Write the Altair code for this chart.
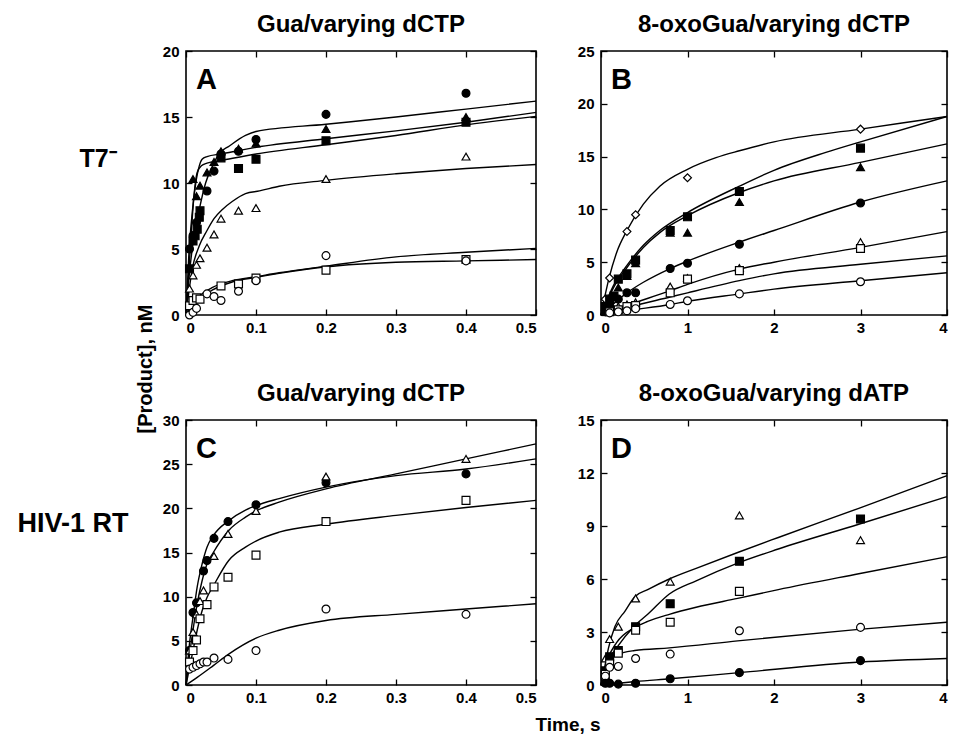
import altair as alt
import pandas as pd

FONT = "Liberation Sans"

# ---------------- Panel A : T7-, Gua / varying dCTP ----------------
A_fcirc_t = [0.005, 0.01, 0.015, 0.03, 0.04, 0.05, 0.075, 0.1, 0.2, 0.4]
A_fcirc_v = [5.0, 6.0, 7.0, 9.4, 10.9, 12.2, 12.4, 13.3, 15.2, 16.8]
A_ftri_t = [0.01, 0.015, 0.02, 0.03, 0.04, 0.05, 0.075, 0.1, 0.2, 0.4]
A_ftri_v = [10.3, 9.0, 9.8, 10.8, 11.6, 12.4, 12.6, 13.0, 14.1, 15.0]
A_fsq_t = [0.005, 0.01, 0.013, 0.016, 0.019, 0.02, 0.05, 0.075, 0.1, 0.2, 0.4]
A_fsq_v = [3.5, 5.6, 6.0, 6.5, 7.4, 7.9, 11.9, 11.1, 11.8, 13.2, 14.6]
A_otri_t = [0.005, 0.01, 0.015, 0.02, 0.03, 0.04, 0.05, 0.075, 0.1, 0.2, 0.4]
A_otri_v = [2.0, 3.0, 3.8, 4.3, 5.1, 6.1, 7.3, 7.9, 8.1, 10.3, 12.0]
A_osq_t = [0.005, 0.01, 0.015, 0.02, 0.05, 0.075, 0.1, 0.2, 0.4]
A_osq_v = [0.7, 1.1, 1.3, 1.2, 2.2, 2.35, 2.8, 3.4, 4.2]
A_ocirc_t = [0.005, 0.01, 0.015, 0.03, 0.04, 0.05, 0.075, 0.1, 0.2, 0.4]
A_ocirc_v = [0.0, 0.2, 0.5, 1.6, 1.4, 1.1, 1.8, 2.6, 4.5, 4.1]

A_fit1_t = [0, 0.004, 0.011, 0.019, 0.028, 0.038, 0.047, 0.062, 0.085, 0.1, 0.2, 0.3, 0.4, 0.5]
A_fit1_v = [0, 2.7, 5.8, 8.0, 10.0, 11.3, 12.2, 12.8, 13.6, 13.9, 14.45, 15.0, 15.6, 16.2]
A_fit2_t = [0, 0.004, 0.009, 0.014, 0.019, 0.023, 0.03, 0.05, 0.1, 0.2, 0.3, 0.4, 0.5]
A_fit2_v = [0, 4.5, 7.8, 10.0, 11.3, 11.8, 12.0, 12.2, 12.7, 13.35, 13.95, 14.6, 15.35]
A_fit3_t = [0, 0.007, 0.011, 0.016, 0.022, 0.03, 0.05, 0.1, 0.2, 0.3, 0.4, 0.5]
A_fit3_v = [0, 5.8, 8.8, 10.8, 11.3, 11.5, 11.7, 12.2, 12.9, 13.6, 14.4, 15.05]
A_fit4_t = [0, 0.009, 0.019, 0.03, 0.04, 0.052, 0.066, 0.085, 0.105, 0.133, 0.2, 0.3, 0.4, 0.5]
A_fit4_v = [0, 3.5, 5.25, 6.4, 7.3, 8.0, 8.6, 9.2, 9.4, 9.75, 10.2, 10.7, 11.1, 11.4]
A_fit5_t = [0, 0.009, 0.019, 0.038, 0.066, 0.1, 0.133, 0.2, 0.3, 0.4, 0.5]
A_fit5_v = [0, 0.96, 1.46, 2.1, 2.6, 2.9, 3.2, 3.7, 4.4, 4.75, 5.05]
A_fit6_t = [0, 0.009, 0.019, 0.038, 0.066, 0.1, 0.133, 0.2, 0.3, 0.4, 0.5]
A_fit6_v = [0, 0.7, 1.2, 1.9, 2.5, 2.85, 3.15, 3.65, 4.0, 4.1, 4.2]

# ---------------- Panel B : T7-, 8-oxoGua / varying dCTP ----------------
B_dia_t = [0.05, 0.1, 0.3, 0.4, 1.0, 3.0]
B_dia_v = [1.5, 3.5, 7.9, 9.5, 13.0, 17.6]
B_fsq_t = [0.05, 0.1, 0.15, 0.2, 0.3, 0.4, 0.8, 1.0, 1.6, 3.0]
B_fsq_v = [0.8, 1.5, 1.8, 3.4, 3.9, 5.2, 8.0, 9.3, 11.7, 15.8]
B_ftri_t = [0.05, 0.1, 0.2, 0.3, 0.4, 0.8, 1.0, 1.6, 3.0]
B_ftri_v = [0.5, 1.2, 2.6, 3.7, 4.9, 7.8, 7.8, 10.7, 14.0]
B_fcirc_t = [0.05, 0.1, 0.2, 0.3, 0.4, 0.8, 1.0, 1.6, 3.0]
B_fcirc_v = [0.3, 0.8, 1.5, 2.1, 2.1, 4.4, 4.9, 6.7, 10.6]
B_otri_t = [0.1, 0.2, 0.3, 0.4, 0.8, 1.0, 1.6, 3.0]
B_otri_v = [0.4, 0.8, 1.0, 1.2, 2.7, 3.5, 4.45, 6.9]
B_osq_t = [0.1, 0.2, 0.3, 0.4, 0.8, 1.0, 1.6, 3.0]
B_osq_v = [0.3, 0.5, 0.8, 0.9, 2.1, 3.4, 4.2, 6.3]
B_ocirc_t = [0.1, 0.2, 0.3, 0.4, 0.8, 1.0, 1.6, 3.0]
B_ocirc_v = [0.2, 0.3, 0.4, 0.6, 1.0, 1.35, 2.0, 3.15]

B_fit1_t = [0, 0.09, 0.18, 0.3, 0.49, 0.68, 1.0, 1.33, 1.6, 2.0, 3.0, 4.0]
B_fit1_v = [0, 3.4, 5.9, 8.0, 10.5, 12.2, 13.8, 14.9, 15.55, 16.4, 17.6, 18.8]
B_fit2_t = [0, 0.145, 0.3, 0.49, 0.68, 1.0, 1.6, 2.0, 2.6, 3.0, 4.0]
B_fit2_v = [0, 2.8, 4.7, 6.6, 8.0, 9.7, 12.2, 13.7, 15.4, 16.4, 18.8]
B_fit3_t = [0, 0.145, 0.3, 0.49, 0.68, 1.0, 1.6, 2.0, 3.0, 4.0]
B_fit3_v = [0, 2.6, 4.5, 6.4, 7.8, 9.4, 11.6, 12.7, 14.45, 16.2]
B_fit4_t = [0, 0.3, 0.49, 0.8, 1.0, 1.6, 2.0, 3.0, 4.0]
B_fit4_v = [0, 2.1, 3.1, 4.4, 5.1, 6.9, 8.0, 10.7, 12.7]
B_fit5_t = [0, 0.3, 0.8, 1.0, 1.6, 2.0, 3.0, 4.0]
B_fit5_v = [0, 0.9, 2.3, 2.9, 4.35, 5.0, 6.4, 7.9]
B_fit6_t = [0, 0.3, 0.8, 1.0, 1.6, 2.0, 3.0, 4.0]
B_fit6_v = [0, 0.7, 1.7, 2.1, 3.25, 3.9, 4.8, 5.6]
B_fit7_t = [0, 0.3, 0.8, 1.0, 1.6, 2.0, 3.0, 4.0]
B_fit7_v = [0, 0.4, 1.0, 1.3, 2.0, 2.45, 3.25, 4.0]

# ---------------- Panel C : HIV-1 RT, Gua / varying dCTP ----------------
C_fcirc_t = [0.005, 0.01, 0.015, 0.025, 0.03, 0.04, 0.06, 0.1, 0.2, 0.4]
C_fcirc_v = [3.9, 8.2, 9.3, 12.9, 14.1, 16.6, 18.5, 20.4, 22.9, 23.9]
C_otri_t = [0.005, 0.01, 0.015, 0.02, 0.025, 0.04, 0.06, 0.1, 0.2, 0.4]
C_otri_v = [3.9, 6.0, 8.0, 9.5, 10.7, 14.6, 17.1, 19.7, 23.6, 25.6]
C_osq_t = [0.005, 0.01, 0.015, 0.02, 0.03, 0.04, 0.06, 0.1, 0.2, 0.4]
C_osq_v = [2.6, 3.9, 5.1, 7.5, 9.1, 11.1, 12.2, 14.7, 18.5, 20.9]
C_ocirc_t = [0.005, 0.01, 0.015, 0.02, 0.025, 0.03, 0.04, 0.06, 0.1, 0.2, 0.4]
C_ocirc_v = [1.8, 2.0, 2.2, 2.4, 2.6, 2.6, 3.05, 2.9, 3.9, 8.6, 8.0]

C_fit1_t = [0, 0.004, 0.01, 0.016, 0.023, 0.03, 0.039, 0.061, 0.085, 0.1, 0.133, 0.2, 0.3, 0.4, 0.5]
C_fit1_v = [0, 3.9, 7.7, 11.1, 13.7, 15.6, 16.9, 18.6, 19.8, 20.3, 21.1, 22.4, 23.7, 24.45, 25.6]
C_fit2_t = [0, 0.004, 0.01, 0.016, 0.023, 0.03, 0.039, 0.061, 0.085, 0.1, 0.133, 0.2, 0.3, 0.4, 0.5]
C_fit2_v = [0, 2.75, 6.2, 9.2, 11.8, 13.7, 15.0, 17.5, 19.0, 19.7, 20.7, 22.2, 23.9, 25.6, 27.3]
C_fit3_t = [0, 0.01, 0.016, 0.023, 0.03, 0.039, 0.061, 0.085, 0.1, 0.133, 0.2, 0.3, 0.4, 0.5]
C_fit3_v = [0, 3.9, 6.2, 8.4, 9.9, 11.2, 14.1, 15.6, 16.3, 17.3, 18.2, 19.2, 20.1, 20.9]
C_fit4_t = [0, 0.016, 0.039, 0.061, 0.1, 0.133, 0.2, 0.3, 0.4, 0.5]
C_fit4_v = [0, 0.87, 2.2, 3.5, 5.3, 6.2, 7.3, 8.0, 8.6, 9.2]

# ---------------- Panel D : HIV-1 RT, 8-oxoGua / varying dATP ----------------
D_otri_t = [0.05, 0.1, 0.2, 0.4, 0.8, 1.6, 3.0]
D_otri_v = [1.5, 2.6, 3.3, 4.9, 5.85, 9.6, 8.2]
D_fsq_t = [0.05, 0.1, 0.2, 0.4, 0.8, 1.6, 3.0]
D_fsq_v = [0.8, 1.6, 1.95, 3.3, 4.6, 7.0, 9.4]
D_osq_t = [0.05, 0.1, 0.2, 0.4, 0.8, 1.6]
D_osq_v = [0.6, 1.2, 1.8, 3.1, 3.55, 5.3]
D_ocirc_t = [0.05, 0.1, 0.2, 0.4, 0.8, 1.6, 3.0]
D_ocirc_v = [0.5, 1.0, 1.05, 1.5, 1.75, 3.07, 3.26]
D_fcirc_t = [0.05, 0.1, 0.2, 0.4, 0.8, 1.6, 3.0]
D_fcirc_v = [0.1, 0.1, 0.05, 0.1, 0.35, 0.7, 1.38]

D_fit1_t = [0, 0.05, 0.087, 0.16, 0.28, 0.39, 0.54, 0.79, 1.1, 1.58, 2.05, 2.98, 4.0]
D_fit1_v = [0, 1.2, 2.1, 3.3, 4.2, 5.0, 5.4, 6.0, 6.6, 7.5, 8.35, 10.0, 11.85]
D_fit2_t = [0, 0.087, 0.18, 0.39, 0.54, 0.79, 1.1, 1.58, 2.05, 2.98, 4.0]
D_fit2_v = [0, 1.4, 2.1, 3.36, 4.0, 5.15, 5.9, 6.9, 7.7, 9.1, 10.66]
D_fit3_t = [0, 0.087, 0.18, 0.39, 0.54, 0.79, 1.1, 1.58, 2.05, 2.98, 4.0]
D_fit3_v = [0, 1.57, 2.4, 3.26, 3.6, 4.0, 4.4, 4.9, 5.4, 6.3, 7.26]
D_fit4_t = [0, 0.05, 0.1, 0.18, 0.39, 0.79, 1.58, 2.98, 4.0]
D_fit4_v = [0, 0.8, 1.4, 1.7, 1.95, 2.1, 2.5, 3.15, 3.55]
D_fit5_t = [0, 0.2, 0.4, 0.8, 1.6, 3.0, 4.0]
D_fit5_v = [0, 0.1, 0.2, 0.35, 0.7, 1.3, 1.5]

# ticks
X_TICKS_SHORT = [0, 0.1, 0.2, 0.3, 0.4, 0.5]
X_TICKS_LONG = [0, 1, 2, 3, 4]
A_YTICKS = [0, 5, 10, 15, 20]
B_YTICKS = [0, 5, 10, 15, 20, 25]
C_YTICKS = [0, 5, 10, 15, 20, 25, 30]
D_YTICKS = [0, 3, 6, 9, 12, 15]

LEFT_W = 350
RIGHT_W = 346
PANEL_H = 264


def points_df(series):
    rows = []
    for ts, vs, shape, filled in series:
        for t, v in zip(ts, vs):
            rows.append({"t": t, "v": v, "shape": shape,
                         "fillc": "black" if filled else "white"})
    return pd.DataFrame(rows)


def fits_df(curves):
    rows = []
    for i, (ts, vs) in enumerate(curves):
        for t, v in zip(ts, vs):
            rows.append({"t": t, "v": v, "curve": i})
    return pd.DataFrame(rows)


def lab_axis(orient, values, fmt, pad):
    return alt.Axis(orient=orient, values=values, format=fmt, title=None,
                    labelFont=FONT, labelFontSize=15, labelFontWeight="bold",
                    labelColor="black", labelPadding=pad, labelAngle=0,
                    ticks=False, domain=False, grid=True, gridColor="black",
                    gridOpacity=1, gridWidth=1.3, gridDash=[6, 2000])


def tick_axis(orient, values):
    return alt.Axis(orient=orient, values=values, title=None, labels=False,
                    ticks=False, domain=False, grid=True, gridColor="black",
                    gridOpacity=1, gridWidth=1.3, gridDash=[6, 2000])


def panel(series, curves, xmax, xticks, ymax, yticks, title, letter, width, height):
    xs = alt.Scale(domain=[0, xmax], nice=False, zero=True)
    ys = alt.Scale(domain=[0, ymax], nice=False, zero=True)
    lines = alt.Chart(fits_df(curves)).mark_line(
        color="black", strokeWidth=1.4, interpolate="monotone"
    ).encode(
        x=alt.X("t:Q", scale=xs, axis=lab_axis("bottom", xticks, "~g", 5)),
        y=alt.Y("v:Q", scale=ys, axis=lab_axis("left", yticks, "d", 7)),
        detail="curve:N",
    )
    pts = alt.Chart(points_df(series)).mark_point(
        filled=True, stroke="black", strokeWidth=1.2, size=62, opacity=1
    ).encode(
        x=alt.X("t:Q", scale=xs, axis=tick_axis("top", xticks)),
        y=alt.Y("v:Q", scale=ys, axis=tick_axis("right", yticks)),
        shape=alt.Shape("shape:N", scale=None),
        fill=alt.Fill("fillc:N", scale=None),
    )
    let = alt.Chart(pd.DataFrame({"label": [letter]})).mark_text(
        font=FONT, fontSize=29, fontWeight="bold", color="black",
        align="left", baseline="alphabetic"
    ).encode(text="label:N", x=alt.value(10), y=alt.value(38))
    return alt.layer(lines, pts, let).resolve_axis(
        x="independent", y="independent"
    ).properties(
        width=width, height=height,
        title=alt.TitleParams(title, font=FONT, fontSize=24, fontWeight="bold",
                              color="black", anchor="middle", frame="group",
                              offset=7),
    )


pA = panel(
    [(A_fcirc_t, A_fcirc_v, "circle", True),
     (A_ftri_t, A_ftri_v, "triangle-up", True),
     (A_fsq_t, A_fsq_v, "square", True),
     (A_otri_t, A_otri_v, "triangle-up", False),
     (A_osq_t, A_osq_v, "square", False),
     (A_ocirc_t, A_ocirc_v, "circle", False)],
    [(A_fit1_t, A_fit1_v), (A_fit2_t, A_fit2_v), (A_fit3_t, A_fit3_v),
     (A_fit4_t, A_fit4_v), (A_fit5_t, A_fit5_v), (A_fit6_t, A_fit6_v)],
    0.5, X_TICKS_SHORT, 20, A_YTICKS, "Gua/varying dCTP", "A", LEFT_W, PANEL_H)

pB = panel(
    [(B_dia_t, B_dia_v, "diamond", False),
     (B_fsq_t, B_fsq_v, "square", True),
     (B_ftri_t, B_ftri_v, "triangle-up", True),
     (B_fcirc_t, B_fcirc_v, "circle", True),
     (B_otri_t, B_otri_v, "triangle-up", False),
     (B_osq_t, B_osq_v, "square", False),
     (B_ocirc_t, B_ocirc_v, "circle", False)],
    [(B_fit1_t, B_fit1_v), (B_fit2_t, B_fit2_v), (B_fit3_t, B_fit3_v),
     (B_fit4_t, B_fit4_v), (B_fit5_t, B_fit5_v), (B_fit6_t, B_fit6_v),
     (B_fit7_t, B_fit7_v)],
    4, X_TICKS_LONG, 25, B_YTICKS, "8-oxoGua/varying dCTP", "B", RIGHT_W, PANEL_H)

pC = panel(
    [(C_fcirc_t, C_fcirc_v, "circle", True),
     (C_otri_t, C_otri_v, "triangle-up", False),
     (C_osq_t, C_osq_v, "square", False),
     (C_ocirc_t, C_ocirc_v, "circle", False)],
    [(C_fit1_t, C_fit1_v), (C_fit2_t, C_fit2_v), (C_fit3_t, C_fit3_v),
     (C_fit4_t, C_fit4_v)],
    0.5, X_TICKS_SHORT, 30, C_YTICKS, "Gua/varying dCTP", "C", LEFT_W, PANEL_H + 1)

pD = panel(
    [(D_otri_t, D_otri_v, "triangle-up", False),
     (D_fsq_t, D_fsq_v, "square", True),
     (D_osq_t, D_osq_v, "square", False),
     (D_ocirc_t, D_ocirc_v, "circle", False),
     (D_fcirc_t, D_fcirc_v, "circle", True)],
    [(D_fit1_t, D_fit1_v), (D_fit2_t, D_fit2_v), (D_fit3_t, D_fit3_v),
     (D_fit4_t, D_fit4_v), (D_fit5_t, D_fit5_v)],
    4, X_TICKS_LONG, 15, D_YTICKS, "8-oxoGua/varying dATP", "D", RIGHT_W, PANEL_H + 1)

row1 = alt.hconcat(pA, pB, spacing=36)
row2 = alt.hconcat(pC, pD, spacing=36)
grid = alt.vconcat(row1, row2, spacing=45).properties(
    title=alt.TitleParams("Time, s", orient="bottom", font=FONT, fontSize=19,
                          fontWeight="bold", color="black", anchor="middle",
                          offset=10, dx=12)
)


def side_text(txt, size, xpos, ypos, ang=0):
    return alt.Chart(pd.DataFrame({"label": [txt]})).mark_text(
        font=FONT, fontSize=size, fontWeight="bold", color="black",
        align="center", baseline="middle", angle=ang
    ).encode(text="label:N", x=alt.value(xpos), y=alt.value(ypos))


labels = alt.layer(
    side_text("T7\u207b", 25, 89, 108),
    side_text("HIV-1 RT", 27, 64, 473),
    side_text("[Product], nM", 20, 137, 318, 270),
).properties(width=147, height=560,
             view=alt.ViewBackground(stroke="transparent"))

chart = alt.hconcat(labels, grid, spacing=4).properties(
    padding={"top": 4, "left": 0, "right": 0, "bottom": 0},
    background="white",
).configure_view(stroke="black", strokeWidth=1.6)

chart.save("out.html", embed_options={"renderer": "svg", "actions": False})
